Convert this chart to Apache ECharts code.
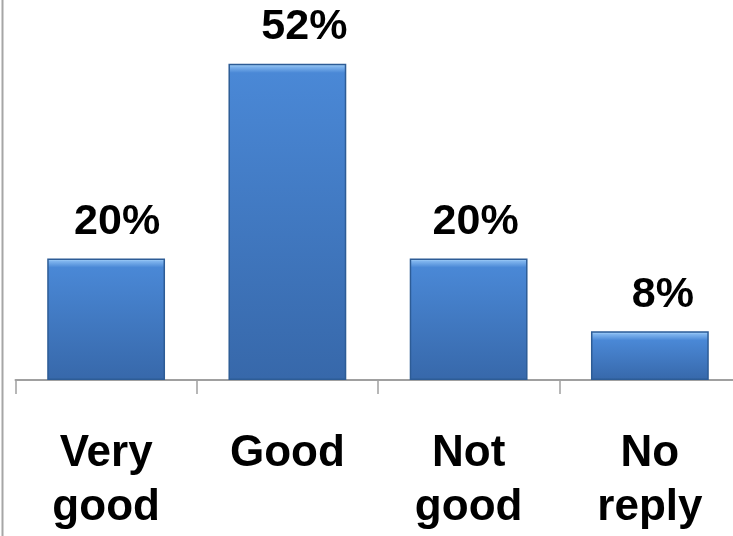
<!DOCTYPE html>
<html>
<head>
<meta charset="utf-8">
<script src="https://cdn.jsdelivr.net/npm/echarts@6/dist/echarts.min.js"></script>
<style>
  html, body { margin: 0; padding: 0; background: #ffffff; }
  #chart { width: 733px; height: 536px; }
</style>
</head>
<body>
<div id="chart"></div>
<script>
// Survey answers and their shares (percent)
const categories = ['Very\ngood', 'Good', 'Not\ngood', 'No\nreply'];
const shares = [20, 52, 20, 8];

// Horizontal nudges for the value labels, in pixels
const labelNudge = [11, 17, 7, 13];

const AXIS_MAX = 62.5;
const PLOT_H = 380;
const pxPerUnit = PLOT_H / AXIS_MAX;

// Bevelled blue fill: light rim at the top, darker towards the base
function bevelFill(value) {
  const h = value * pxPerUnit;
  const rim = Math.min(0.5, 3 / h);
  const soft = Math.min(0.6, 9 / h);
  return new echarts.graphic.LinearGradient(0, 0, 0, 1, [
    { offset: 0, color: '#5f9de6' },
    { offset: rim * 0.5, color: '#9ccaf6' },
    { offset: rim, color: '#7fb4ee' },
    { offset: soft, color: '#4a88d6' },
    { offset: 1, color: '#3768aa' }
  ]);
}

const chart = echarts.init(document.getElementById('chart'), null, { renderer: 'canvas' });

chart.setOption({
  animation: false,
  backgroundColor: '#ffffff',
  textStyle: { fontFamily: '"Liberation Sans", Arial, sans-serif' },
  grid: { left: 15.5, top: 0, width: 725, height: PLOT_H, outerBoundsMode: 'none', containLabel: false },
  graphic: [{
    type: 'line',
    shape: { x1: 2.5, y1: 0, x2: 2.5, y2: 536 },
    style: { stroke: '#a6a6a6', lineWidth: 2 },
    silent: true
  }],
  xAxis: {
    type: 'category',
    data: categories,
    boundaryGap: true,
    axisLine: { lineStyle: { color: '#a0a0a0', width: 2 } },
    axisTick: { show: true, length: 14, lineStyle: { color: '#a0a0a0', width: 1.5 } },
    axisLabel: {
      interval: 0,
      margin: 47,
      color: '#000000',
      fontSize: 44,
      fontWeight: 'bold',
      lineHeight: 54,
      verticalAlign: 'top',
      fontFamily: '"Liberation Sans", Arial, sans-serif'
    }
  },
  yAxis: {
    type: 'value',
    min: 0,
    max: AXIS_MAX,
    show: false,
    splitLine: { show: false }
  },
  series: [{
    type: 'bar',
    barWidth: '65%',
    data: shares.map((v, i) => ({
      value: v,
      itemStyle: { color: bevelFill(v) },
      label: { offset: [labelNudge[i], 0] }
    })),
    itemStyle: {
      borderColor: '#2d5c96',
      borderWidth: 1.5
    },
    label: {
      show: true,
      position: 'top',
      distance: 15,
      color: '#000000',
      fontSize: 43,
      fontWeight: 'bold',
      fontFamily: '"Liberation Sans", Arial, sans-serif',
      formatter: p => p.value + '%'
    }
  }]
});
</script>
</body>
</html>
